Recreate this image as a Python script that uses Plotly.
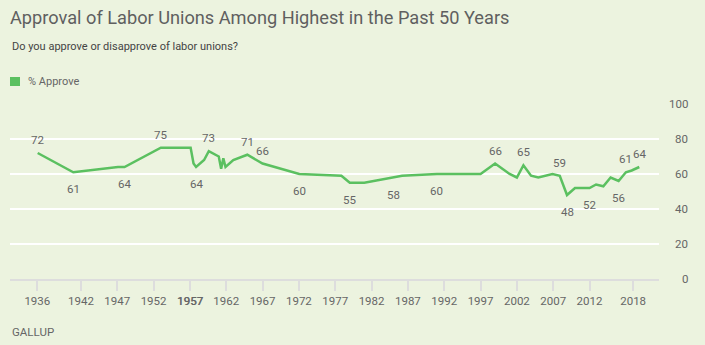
import plotly.graph_objects as go

# Gallup: % approving of labor unions, by survey date (decimal year)
survey_year = [1936.05, 1940.95, 1947.1, 1948.0, 1953.0, 1957.1, 1957.5, 1957.85,
               1958.95, 1959.6, 1960.97, 1961.3, 1961.6, 1961.9, 1962.97, 1964.9,
               1967.0, 1972.05, 1977.85, 1979.0, 1981.0, 1985.0, 1986.2, 1991.0,
               1997.0, 1999.0, 2001.0, 2002.0, 2002.9, 2003.95, 2004.95, 2006.9,
               2007.9, 2008.9, 2010.0, 2011.0, 2012.0, 2012.9, 2013.9, 2014.9,
               2016.0, 2017.0, 2017.8, 2018.85]
approve = [72, 61, 64, 64, 75, 75, 66, 64,
           68, 73, 70, 63, 69, 64, 68, 71,
           66, 60, 59, 55, 55, 58, 59, 60,
           60, 66, 60, 58, 65, 59, 58, 60,
           59, 48, 52, 52, 52, 54, 53, 58,
           56, 61, 62, 64]

# Points that carry a value label, and whether it sits above or below the line
labels_above = [1936.05, 1953.0, 1959.6, 1964.9, 1967.0, 1999.0, 2002.9, 2007.9,
                2017.0, 2018.85]
labels_below = [1940.95, 1948.0, 1957.85, 1972.05, 1979.0, 1985.0, 1991.0,
                2008.9, 2012.0, 2016.0]

x_ticks = [1936, 1942, 1947, 1952, 1957, 1957.08, 1962, 1967, 1972, 1977, 1982,
           1987, 1992, 1997, 2002, 2007, 2012, 2018]
x_tick_text = ["1936", "1942", "1947", "1952", "1957", "1957", "1962", "1967",
               "1972", "1977", "1982", "1987", "1992", "1997", "2002", "2007",
               "2012", "2018"]
y_ticks = [0, 20, 40, 60, 80, 100]

BG = "#ecf3df"
GREEN = "#5bc060"
TEXT = "#666666"
FONT = "Roboto, 'Open Sans', sans-serif"

fig = go.Figure()
fig.add_trace(go.Scatter(
    x=survey_year, y=approve, mode="lines",
    line=dict(color=GREEN, width=2.5),
    showlegend=False, hoverinfo="x+y",
))

annotations = []
for xv, yv in zip(survey_year, approve):
    if xv in labels_above:
        shift = 13
    elif xv in labels_below:
        shift = -17
    else:
        continue
    annotations.append(dict(
        x=xv, y=yv, xref="x", yref="y", text=str(yv), showarrow=False,
        yshift=shift, yanchor="middle", xanchor="center",
        font=dict(family=FONT, size=11.5, color=TEXT),
    ))

# right-aligned y tick labels
for v in y_ticks:
    annotations.append(dict(
        x=1.0478, y=v, xref="paper", yref="y", text=str(v), showarrow=False,
        xanchor="right", yanchor="middle",
        font=dict(family=FONT, size=11.5, color=TEXT),
    ))

# subtitle, legend text and source line
annotations += [
    dict(x=0, y=(279 - 46) / 175, xref="paper", yref="paper",
         text="Do you approve or disapprove of labor unions?",
         showarrow=False, xanchor="left", yanchor="middle",
         font=dict(family=FONT, size=11, color="#444444")),
    dict(x=0.0239, y=(279 - 81) / 175, xref="paper", yref="paper", text="% Approve",
         showarrow=False, xanchor="left", yanchor="middle",
         font=dict(family=FONT, size=11, color=TEXT)),
    dict(x=0, y=(279 - 332) / 175, xref="paper", yref="paper", text="GALLUP",
         showarrow=False, xanchor="left", yanchor="middle",
         font=dict(family=FONT, size=11.5, color=TEXT)),
]

fig.update_layout(
    width=705, height=345,
    margin=dict(l=10, r=46, t=104, b=66),
    paper_bgcolor=BG, plot_bgcolor=BG,
    title=dict(
        text="Approval of Labor Unions Among Highest in the Past 50 Years",
        x=10 / 705, xanchor="left", y=1 - 18 / 345, yanchor="middle",
        font=dict(family=FONT, size=18.2, color="#5f5f5f"),
    ),
    xaxis=dict(
        range=[1932.24, 2021.56], tickvals=x_ticks, ticktext=x_tick_text,
        tickangle=0,
        ticks="outside", ticklen=10, tickwidth=2, tickcolor="#dddddd",
        showline=True, linecolor="#dddddd", linewidth=2,
        showgrid=False, zeroline=False,
        tickfont=dict(family=FONT, size=11.5, color=TEXT),
    ),
    yaxis=dict(
        range=[0, 100], tickvals=y_ticks[1:], showticklabels=False,
        showgrid=True, gridcolor="#ffffff", gridwidth=2, zeroline=False,
    ),
    shapes=[dict(type="rect", xref="paper", yref="paper",
                 x0=0, x1=10 / 649, y0=(279 - 86) / 175, y1=(279 - 77) / 175,
                 fillcolor=GREEN, line=dict(width=0))],
    annotations=annotations,
)

fig.write_html("out.html")
